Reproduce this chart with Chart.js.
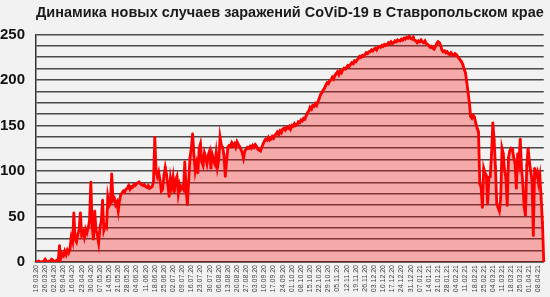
<!DOCTYPE html>
<html>
<head>
<meta charset="utf-8">
<script src="https://cdn.jsdelivr.net/npm/chart.js@4"></script>
<style>
  body { margin: 0; background: #f2f2f2; }
  #wrap { width: 550px; height: 297px; }
</style>
</head>
<body>
<div id="wrap"><canvas id="myChart"></canvas></div>
<script>
// daily new cases, 19.03.20 .. 12.04.21
const cases = [
  0,0,1,0,0,0,1,3,1,0,
  1,0,3,2,0,1,2,1,18,4,
  9,7,12,8,13,10,14,27,22,54,
  25,22,30,35,54,30,33,27,36,32,
  38,45,88,40,25,56,35,30,21,38,
  45,68,35,40,38,71,62,65,97,68,
  70,63,66,56,68,74,76,78,77,80,
  81,84,80,83,82,85,84,86,87,88,
  86,85,84,85,83,82,84,81,82,83,
  88,137,100,94,99,90,78,80,95,104,
  96,85,72,92,83,93,77,90,94,75,
  85,80,83,80,110,80,63,90,115,125,
  141,118,100,108,98,125,130,110,106,120,
  115,108,118,122,103,118,112,108,120,104,
  112,137,128,126,118,94,110,126,128,127,
  131,128,130,126,132,129,127,124,120,114,
  122,124,126,125,127,125,128,126,129,127,
  124,123,122,126,130,133,135,134,137,134,
  135,138,136,139,141,143,140,144,142,146,
  147,145,148,147,149,146,150,149,152,150,
  151,154,153,156,155,158,157,161,164,166,
  170,168,172,171,174,172,176,180,184,186,
  189,191,194,197,196,199,200,203,201,205,
  207,209,206,210,208,211,213,212,214,216,
  215,217,219,218,221,220,222,224,226,225,
  227,226,228,230,229,231,231,233,232,234,
  235,233,236,237,236,238,237,239,238,239,
  241,240,242,240,241,243,242,244,243,243,
  245,244,246,245,247,246,248,246,245,247,
  244,243,241,243,242,244,242,241,243,240,
  239,238,236,237,235,234,237,240,242,241,
  238,233,231,232,230,231,229,228,230,228,
  227,229,228,226,224,222,220,217,212,208,
  198,187,175,160,158,161,159,152,147,143,
  86,82,60,103,98,95,64,93,94,119,
  153,134,104,64,60,56,70,125,119,100,
  93,62,115,122,125,124,115,108,81,119,
  110,135,102,86,60,51,106,125,110,100,
  90,29,103,95,99,87,95,70,43,0
];

// one label per day, starting 19.03.20
const startDate = Date.UTC(2020, 2, 19);
const dates = cases.map((v, i) => {
  const d = new Date(startDate + i * 86400000);
  const dd = String(d.getUTCDate()).padStart(2, "0");
  const mm = String(d.getUTCMonth() + 1).padStart(2, "0");
  const yy = String(d.getUTCFullYear()).slice(2);
  return dd + "." + mm + "." + yy;
});

const yLabels = [0, 50, 100, 150, 200, 250];
const yGrid = [0, 12.5, 25, 37.5, 50, 62.5, 75, 87.5, 100, 112.5, 125, 137.5,
  150, 162.5, 175, 187.5, 200, 212.5, 225, 237.5, 250];
const titleText = "Динамика новых случаев заражений CoViD-19 в Ставропольском крае";

const ctx = document.getElementById("myChart").getContext("2d");
new Chart(ctx, {
  type: "line",
  data: {
    labels: dates,
    datasets: [{
      data: cases,
      borderColor: "#ff0000",
      backgroundColor: "rgba(255, 0, 0, 0.3)",
      borderWidth: 2.8,
      pointRadius: 1.3,
      pointBackgroundColor: "#ff0000",
      pointBorderWidth: 0,
      fill: "origin",
      tension: 0
    }]
  },
  options: {
    responsive: true,
    maintainAspectRatio: false,
    animation: false,
    layout: { padding: { left: 0, right: 2, top: 0, bottom: 0 } },
    scales: {
      x: {
        offset: false,
        grid: { display: false, drawTicks: false },
        border: { color: "#333", width: 1.5 },
        ticks: {
          autoSkip: false,
          minRotation: 90,
          maxRotation: 90,
          padding: 3,
          color: "#444",
          font: { family: "Liberation Sans, Arial", size: 7 }
        },
        afterBuildTicks: s => { s.ticks = s.ticks.filter(t => t.value % 7 === 0); },
        afterFit: s => { s.height = 35; }
      },
      y: {
        min: 0,
        max: 250,
        grid: { color: "rgba(45, 45, 45, 0.85)", lineWidth: 1.6, drawTicks: false },
        border: { color: "#333", width: 1.5 },
        ticks: {
          autoSkip: false,
          padding: 11,
          color: "#111",
          font: { family: "Liberation Sans, Arial", size: 15, weight: "bold" },
          callback: v => yLabels.includes(v) ? v : ""
        },
        afterBuildTicks: s => { s.ticks = yGrid.map(v => ({ value: v })); },
        afterFit: s => { s.width = 36; }
      }
    },
    plugins: {
      legend: { display: false },
      tooltip: { enabled: false },
      title: {
        display: true,
        fullSize: false,
        text: titleText,
        color: "#1a1a1a",
        font: { family: "Liberation Sans, Arial", size: 14.6, weight: "bold" },
        padding: { top: 4, bottom: 13 }
      }
    }
  }
});
</script>
</body>
</html>
